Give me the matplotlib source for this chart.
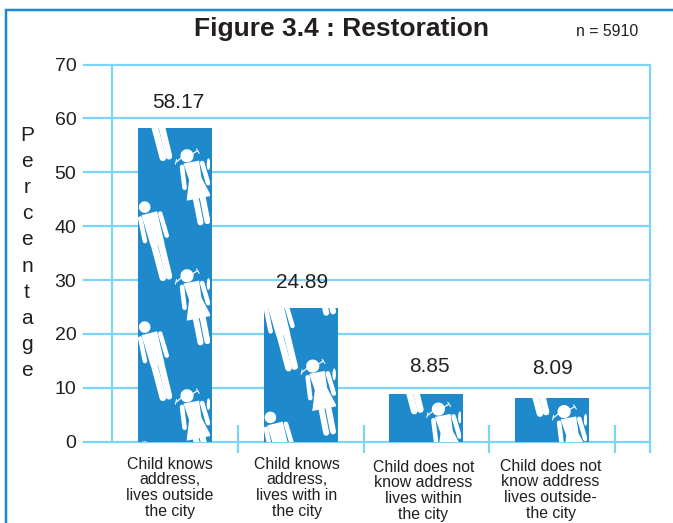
import matplotlib
matplotlib.use("Agg")
import matplotlib.pyplot as plt
from matplotlib.lines import Line2D
from matplotlib.patches import Circle, Ellipse, Polygon, Rectangle
from matplotlib.transforms import Affine2D

plt.rcParams['font.family'] = ['Liberation Sans', 'DejaVu Sans']

W, H = 673, 523
BLUE = '#1e8acb'
LIGHT = '#7dd5f6'
TEXT = '#231f20'

categories = [
    "Child knows\naddress,\nlives outside\nthe city",
    "Child knows\naddress,\nlives with in\nthe city",
    "Child does not\nknow address\nlives within\nthe city",
    "Child does not\nknow address\nlives outside-\nthe city",
]
values = [58.17, 24.89, 8.85, 8.09]
y_ticks = [0, 10, 20, 30, 40, 50, 60, 70]
sep_ticks = [0.5, 1.5, 2.5, 3.5]

# layout bits, all in pixels
label_dx = [3, 1, 3, 0]
label_dy = [26, 25, 27, 30]
cat_dx = [-5, -4, -3, -1.5]
cat_dy = [15, 15, 18, 17]
girl_phase = [45.8, 75.5, 32.5, 30.0]


def px(n):
    return n * 0.72


fig = plt.figure(figsize=(W / 100, H / 100), dpi=100)
fig.patch.set_facecolor('white')
ax = fig.add_axes([84 / W, 1 - 441.6 / H, 566 / W, 377 / H])
ax.set_xlim(-91 / 125.7, 475 / 125.7)
ax.set_ylim(0, 70)
for s in ax.spines.values():
    s.set_visible(False)
ax.set_xticks([])
ax.set_yticks(y_ticks)
ax.tick_params(axis='y', length=0, pad=5.5, labelsize=14, labelcolor=TEXT)
ax.yaxis.grid(True, color=LIGHT, lw=px(2.2), zorder=1, clip_on=False)
ax.set_axisbelow(True)
for g in ax.get_ygridlines():
    g.set_clip_on(False)

# axis and separator lines
ax.vlines([-0.5], 0, 70, color=LIGHT, lw=px(2.2), zorder=1)
ax.vlines(sep_ticks, -2.05, 3.1, color=LIGHT, lw=px(2.2), zorder=1, clip_on=False)
ax.vlines([475 / 125.7], -2.05, 70, color=LIGHT, lw=px(2.2), zorder=1, clip_on=False)

bars = ax.bar(range(4), values, width=74 / 125.7, color=BLUE, zorder=2)


def add_line(tr, bar, xs, ys, lw):
    line = Line2D(xs, ys, color='white', lw=px(lw), solid_capstyle='round', transform=tr, zorder=3)
    ax.add_line(line)
    line.set_clip_path(bar)


def add_poly(tr, bar, pts):
    p = Polygon(pts, closed=True, fc='white', ec='none', transform=tr, zorder=3)
    ax.add_patch(p)
    p.set_clip_path(bar)


def add_head(tr, bar, r):
    c = Circle((0, 0), r, fc='white', ec='none', transform=tr, zorder=3)
    ax.add_patch(c)
    c.set_clip_path(bar)


def boy(x, y, bar):
    tr = Affine2D().scale(1, -1).rotate_deg(14).translate(x, y)
    add_head(tr, bar, 5.8)
    add_poly(tr, bar, [(-5, 7), (11, 7), (10.5, 40), (-3.5, 40)])
    add_line(tr, bar, [-7, -8], [10, 33], 4.6)
    add_line(tr, bar, [13.5, 14.5], [10, 33], 4.6)
    add_line(tr, bar, [0, 0.5], [40, 73], 6.6)
    add_line(tr, bar, [7, 6.8], [40, 73], 6.6)


def girl(x, y, bar):
    tr = Affine2D().scale(1, -1).rotate_deg(11).translate(x, y)
    add_head(tr, bar, 6.6)
    add_line(tr, bar, [-6, -11.5], [1, 4], 1.2)
    add_line(tr, bar, [-11, -13], [1.5, 6], 1)
    add_line(tr, bar, [6, 11.5], [-1, -3], 1.2)
    add_line(tr, bar, [10.5, 12.5], [-5, 0], 1)
    add_poly(tr, bar, [(-5, 7), (11, 7), (10, 24), (16, 44), (-9, 44), (-2.5, 24)])
    add_line(tr, bar, [-7, -8.5], [10, 31], 4.6)
    add_line(tr, bar, [13.5, 15.5], [10, 31], 4.6)
    add_line(tr, bar, [0.5, 0.5], [44, 68], 6)
    add_line(tr, bar, [7.5, 7.5], [44, 68], 6)


# wallpaper of figures inside each bar, repeats every 120 px
for i, bar in enumerate(bars):
    x0, y0 = ax.transData.transform((bar.get_x(), 0))
    for k in range(-1, 4):
        g = girl_phase[i] + 120 * k
        girl(x0 + 49, y0 + g, bar)
        boy(x0 + 6.7, y0 + g + 68.7, bar)
    # the pattern tile stops just short of the bar's right edge
    strip = Rectangle((x0 + 72, y0), 2, bar.get_height() * 377 / 70, fc=BLUE, ec='none',
                      transform=Affine2D(), zorder=4)
    ax.add_patch(strip)
    for k in range(-1, 4):
        g = girl_phase[i] + 120 * k
        sliver = Ellipse((x0 + 70.5, y0 + g - 8.3), 3.5, 12, fc='white', ec='none',
                         transform=Affine2D(), zorder=3)
        ax.add_patch(sliver)
        sliver.set_clip_path(bar)

for i, v in enumerate(values):
    ax.annotate(f"{v:.2f}", (i, v), xytext=(px(label_dx[i]), px(label_dy[i])), textcoords='offset points',
                ha='center', va='center', fontsize=15, color=TEXT, zorder=5)

for i, c in enumerate(categories):
    ax.annotate(c, (i, 0), xytext=(px(cat_dx[i]), -px(cat_dy[i])), textcoords='offset points',
                ha='center', va='top', fontsize=11.4, color=TEXT, linespacing=1.06,
                annotation_clip=False)

fig.text(341.5 / W, 1 - 29.5 / H, "Figure 3.4 : Restoration", ha='center', va='center',
         fontsize=19, fontweight='bold', color=TEXT)
fig.text(606.7 / W, 1 - 31 / H, "n = 5910", ha='center', va='center', fontsize=11.4, color=TEXT)
fig.text(27 / W, 1 - 253 / H, "\n".join("Percentage"), ha='center', va='center',
         fontsize=15, color=TEXT, linespacing=1.47)

# outer frame, open on the right and at the bottom
fig.add_artist(Line2D([6 / W, 6 / W, 1], [0, 1 - 9.5 / H, 1 - 9.5 / H], color=BLUE, lw=px(2.5),
                      transform=fig.transFigure, solid_joinstyle='miter'))

fig.savefig("out.png", dpi=100)
